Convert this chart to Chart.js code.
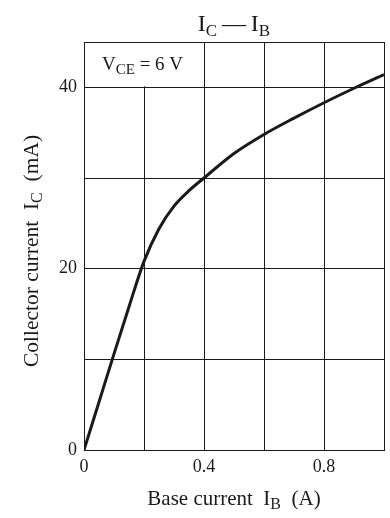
<!DOCTYPE html>
<html>
<head>
<meta charset="utf-8">
<script src="https://cdn.jsdelivr.net/npm/chart.js@4/dist/chart.umd.min.js"></script>
<style>
html,body{margin:0;padding:0;background:#fff;}
#wrap{width:390px;height:518px;position:relative;}
</style>
</head>
<body>
<div id="wrap"><canvas id="c" width="390" height="518"></canvas></div>
<script>
// Data
const baseCurrent = [0, 0.05, 0.1, 0.15, 0.2, 0.25, 0.3, 0.35, 0.4, 0.5, 0.6, 0.7, 0.8, 0.9, 1.0];
const collectorCurrent = [0, 5.3, 10.6, 15.8, 20.8, 24.4, 26.9, 28.6, 30.0, 32.7, 34.8, 36.6, 38.3, 39.9, 41.4];
const xTicks = [0, 0.2, 0.4, 0.6, 0.8, 1.0];
const xTickLabels = ['0', '', '0.4', '', '0.8', ''];
const yTicks = [0, 10, 20, 30, 40, 45];
const yTickLabels = ['0', '', '20', '', '40', ''];

const SERIF = '"Liberation Serif", "DejaVu Serif", serif';
const INK = '#1a1a1a';

function drawParts(ctx, parts, x, y, align, size, subSize) {
  let total = 0;
  const widths = parts.map(p => {
    ctx.font = (p.sub ? subSize : size) + 'px ' + SERIF;
    const w = ctx.measureText(p.t).width;
    total += w;
    return w;
  });
  let cx = align === 'center' ? x - total / 2 : x;
  ctx.textAlign = 'left';
  ctx.textBaseline = 'alphabetic';
  parts.forEach((p, i) => {
    ctx.font = (p.sub ? subSize : size) + 'px ' + SERIF;
    ctx.fillText(p.t, cx, p.sub ? y + size * 0.2 : y);
    cx += widths[i];
  });
}

const textPlugin = {
  id: 'textPlugin',
  beforeDatasetsDraw(chart) {
    const ctx = chart.ctx;
    const xs = chart.scales.x, ys = chart.scales.y;
    // clear the label box (grid line at 0.2 does not run above 40)
    const l = xs.getPixelForValue(0), r = xs.getPixelForValue(0.4);
    const t = ys.getPixelForValue(45), b = ys.getPixelForValue(40);
    ctx.save();
    ctx.fillStyle = '#fff';
    ctx.fillRect(l + 1, t + 1, r - l - 2, b - t - 2);
    ctx.restore();
  },
  afterDraw(chart) {
    const ctx = chart.ctx;
    const area = chart.chartArea;
    ctx.save();
    ctx.fillStyle = INK;
    const cx = (area.left + area.right) / 2;
    // title
    drawParts(ctx, [{t:'I'}, {t:'C', sub:true}, {t:'\u2009\u2014\u2009I'}, {t:'B', sub:true}], cx, 31, 'center', 24, 17);
    // x-axis title
    drawParts(ctx, [{t:'Base current  I'}, {t:'B', sub:true}, {t:'  (A)'}], cx, 505, 'center', 21, 16);
    // V_CE label
    const xs = chart.scales.x;
    drawParts(ctx, [{t:'V'}, {t:'CE', sub:true}, {t:' = 6 V'}], xs.getPixelForValue(0) + 18, 70, 'left', 19, 15);
    // y-axis title
    ctx.translate(38, 251);
    ctx.rotate(-Math.PI / 2);
    drawParts(ctx, [{t:'Collector current  I'}, {t:'C', sub:true}, {t:'  (mA)'}], 0, 0, 'center', 21.5, 16);
    ctx.restore();
  }
};

new Chart(document.getElementById('c'), {
  type: 'line',
  data: {
    datasets: [{
      data: baseCurrent.map((v, i) => ({x: v, y: collectorCurrent[i]})),
      borderColor: INK,
      borderWidth: 3,
      pointRadius: 0,
      fill: false,
      cubicInterpolationMode: 'monotone'
    }]
  },
  options: {
    responsive: false,
    animation: false,
    layout: {padding: {top: 42, right: 3, left: 0, bottom: 0}},
    plugins: {legend: {display: false}, tooltip: {enabled: false}, title: {display: false}},
    scales: {
      x: {
        type: 'linear', min: 0, max: 1.0,
        afterBuildTicks: s => { s.ticks = xTicks.map(v => ({value: v})); },
        afterFit: s => { s.height = 68; },
        grid: {color: INK, lineWidth: 1, drawTicks: false},
        border: {color: INK, width: 1},
        ticks: {
          padding: 6, color: INK, maxRotation: 0, autoSkip: false,
          font: {family: SERIF, size: 18},
          callback: (v, i) => xTickLabels[i]
        }
      },
      y: {
        type: 'linear', min: 0, max: 45,
        afterBuildTicks: s => { s.ticks = yTicks.map(v => ({value: v})); },
        afterFit: s => { s.width = 84; },
        grid: {color: INK, lineWidth: 1, drawTicks: false},
        border: {color: INK, width: 1},
        ticks: {
          padding: 7, color: INK, autoSkip: false,
          font: {family: SERIF, size: 18},
          callback: (v, i) => yTickLabels[i]
        }
      }
    }
  },
  plugins: [textPlugin]
});
</script>
</body>
</html>
